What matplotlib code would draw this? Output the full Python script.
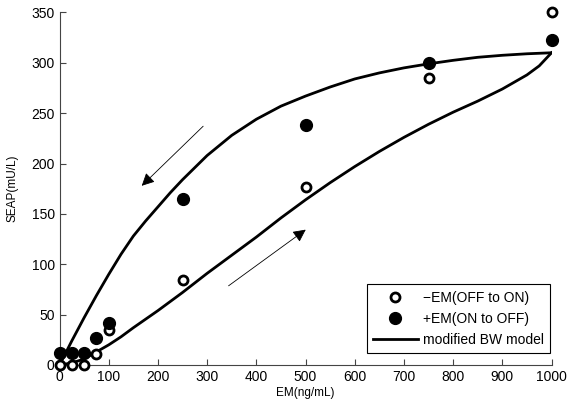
from matplotlib import pyplot as plt

plt.rcParams['font.family'] = ['Liberation Sans', 'DejaVu Sans']

# measured data
em = [0, 25, 50, 75, 100, 250, 500, 750, 1000]
seap_off_on = [0, 0, 0, 11, 35, 84, 177, 285, 350]
seap_on_off = [12, 12, 12, 27, 42, 165, 238, 300, 323]

# modified BW model, rising branch (OFF to ON)
model_up_x = [0, 25, 50, 75, 100, 125, 150, 200, 250, 300, 350, 400, 450, 500,
              550, 600, 650, 700, 750, 800, 850, 900, 950, 975, 1000]
model_up_y = [0, 2, 6, 13, 20, 28, 37, 54, 72, 91, 109, 127, 146, 164,
              181, 197, 212, 226, 239, 251, 262, 274, 288, 297, 310]
# falling branch (ON to OFF)
model_down_x = [1000, 950, 900, 850, 800, 750, 700, 650, 600, 550, 500, 450,
                400, 350, 300, 250, 225, 200, 175, 150, 125, 100, 75, 50, 25,
                10, 0]
model_down_y = [310, 309, 307.5, 305.5, 302.5, 299, 295, 290, 284, 276, 267, 257,
                244, 228, 208, 184, 171, 157, 143, 128, 110, 90, 69, 47, 24,
                9.5, 0]

fig = plt.figure(figsize=(5.67, 4.08), dpi=100)
ax = fig.add_axes([0.105, 0.1054, 0.8677, 0.864])

ax.plot(model_up_x, model_up_y, color='k', lw=2, zorder=2)
ax.plot(model_down_x, model_down_y, color='k', lw=2, zorder=2,
        label='modified BW model')
ax.plot(em, seap_off_on, 'o', color='k', mfc='white', mec='k', ms=6.5,
        mew=2, clip_on=False, zorder=3, label='\u2212EM(OFF to ON)')
ax.plot(em, seap_on_off, 'o', color='k', ms=8.5, clip_on=False, zorder=3,
        label='+EM(ON to OFF)')

# direction arrows
ax.annotate('', xy=(163, 176), xytext=(296, 239),
            arrowprops=dict(arrowstyle='-|>', lw=0.6, color='k', mutation_scale=19))
ax.annotate('', xy=(505, 136), xytext=(339, 77),
            arrowprops=dict(arrowstyle='-|>', lw=0.6, color='k', mutation_scale=19))

ax.set_xlim(0, 1000)
ax.set_ylim(0, 350)
ax.set_xticks(range(0, 1001, 100))
ax.set_yticks(range(0, 351, 50))
ax.spines['top'].set_visible(False)
ax.spines['right'].set_visible(False)
ax.spines['left'].set_color('#444444')
ax.spines['bottom'].set_color('#444444')
ax.tick_params(direction='in', length=4, labelsize=10, colors='#444444',
               labelcolor='k')

ax.set_xlabel('EM(ng/mL)', fontsize=8.5, labelpad=2)
ax.set_ylabel('SEAP(mU/L)', fontsize=8.5, labelpad=9)

handles, labels = ax.get_legend_handles_labels()
order = [1, 2, 0]
leg = ax.legend([handles[i] for i in order], [labels[i] for i in order],
                loc='lower right', bbox_to_anchor=(1.012, 0.015), fontsize=10,
                fancybox=False, edgecolor='k', framealpha=1, handlelength=3.2,
                borderpad=0.45, labelspacing=0.5, handletextpad=0.4)
leg.get_frame().set_linewidth(0.8)

plt.savefig('out.png', dpi=100)
